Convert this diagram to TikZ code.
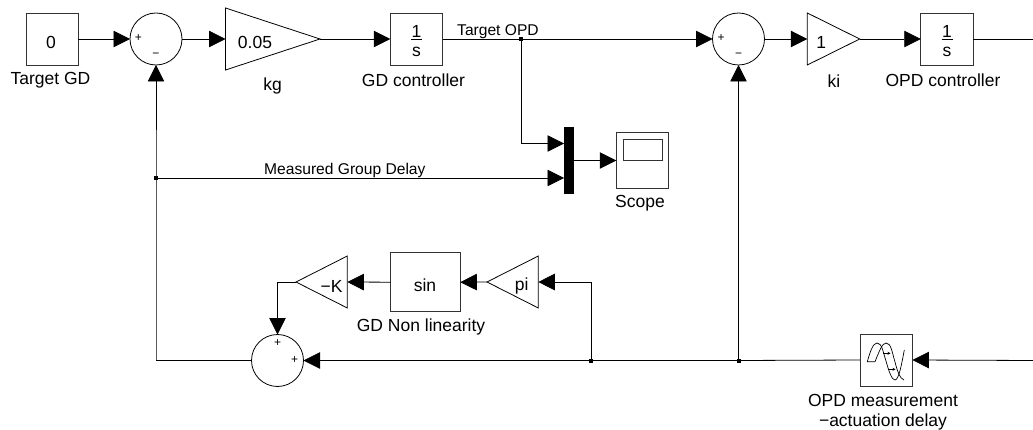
\documentclass[tikz,border=0pt]{standalone}
\usepackage{fontspec}
\setmainfont{Liberation Sans}
\usetikzlibrary{arrows.meta}
\definecolor{edge}{gray}{0.2}
\tikzset{
  x=1pt,y=-1pt,
  lbl/.style={inner sep=0pt,font=\fontsize{17.5}{20}\selectfont,align=center},
  wirelbl/.style={inner sep=0pt,font=\fontsize{15.6}{18}\selectfont,anchor=base west},
  sgn/.style={inner sep=0pt,font=\fontsize{12}{12}\selectfont},
  block/.style={draw=edge,line width=0.9pt,minimum width=#1,inner sep=0pt,outer sep=0pt},
  sumb/.style={circle,draw=black,line width=0.8pt,minimum size=52pt,inner sep=0pt,outer sep=0pt},
  tri/.style={draw=black,line width=0.8pt,line join=miter},
  wire/.style={draw=black,line width=0.8pt},
  sig/.style={wire,-{Triangle[length=16.5pt,width=16.5pt]}},
  dot/.style={fill=black,minimum size=4pt,inner sep=0pt,outer sep=0pt,shape=rectangle},
  icon/.style={draw=black,line width=0.7pt},
  iconarrow/.style={icon,-{Stealth[length=3pt,width=3pt]}},
}
\begin{document}
\begin{tikzpicture}
\useasboundingbox (0,0) rectangle (1033,430);
% blocks
\node[block=52pt,minimum height=52pt] (c0) at (52,39) {};
\node[lbl] (c0t) at (51,42) {0};
\node[lbl] (c0l) at (50.5,80) {Target GD};
\node[sumb] (s1) at (156,39) {};
\node[sgn] (s1p) at (138.5,38.5) {+};
\node[sgn] (s1m) at (156,55) {−};
% gain kg
\coordinate (kgB) at (225.5,39);
\coordinate (kgA) at (320,39);
\draw[tri] (225.5,8) -- (kgA) -- (225.5,70) -- cycle;
\node[lbl] (kgt) at (255,42.5) {0.05};
\node[lbl] (kgl) at (272.5,85.5) {kg};
\node[block=52.5pt,minimum height=52pt] (i1) at (416.5,39) {};
\node[lbl] (i1n) at (416.5,31.5) {1};
\node[lbl] (i1s) at (416.5,52) {s};
\coordinate (i1a) at (411,39);\coordinate (i1b) at (422,39);
\draw[line width=0.8pt] (i1a) -- (i1b);
\node[lbl] (i1l) at (413.5,80) {GD controller};
\node[wirelbl] (topd) at (457,36) {Target OPD};
\node[dot] (j1) at (521,39) {};
\node[sumb] (s2) at (738.5,39) {};
\node[sgn] (s2p) at (721,38.5) {+};
\node[sgn] (s2m) at (738.5,55) {−};
% gain ki
\coordinate (kiB) at (807.3,39);
\coordinate (kiA) at (859.7,39);
\draw[tri] (807.3,13) -- (kiA) -- (807.3,65) -- cycle;
\node[lbl] (kit) at (821.3,42) {1};
\node[lbl] (kil) at (834,81) {ki};
\node[block=52.5pt,minimum height=52pt] (i2) at (947,39) {};
\node[lbl] (i2n) at (947,31.5) {1};
\node[lbl] (i2s) at (947,52) {s};
\coordinate (i2a) at (941.5,39);\coordinate (i2b) at (952.5,39);
\draw[line width=0.8pt] (i2a) -- (i2b);
\node[lbl] (i2l) at (943,80) {OPD controller};
\coordinate (outr) at (1033,39);
\node[fill=black,minimum width=9.7pt,minimum height=67pt,inner sep=0pt,outer sep=0pt] (mux) at (568.9,160.5) {};
\coordinate (mi1) at (564,143.5);\coordinate (mi2) at (564,178);\coordinate (mo) at (573.7,160.5);
\node[block=52.5pt,minimum height=55.5pt] (sc) at (642.5,160.5) {};
\node[draw=edge,line width=0.9pt,minimum width=38.5pt,minimum height=21pt,inner sep=0pt] (scr) at (642.8,150.2) {};
\node[lbl] (scl) at (640,203) {Scope};
\node[dot] (j2) at (156,178) {};
\node[wirelbl] (mgd) at (264,175) {Measured Group Delay};
% lower path
\coordinate (mkA) at (296,282);
\coordinate (mkB) at (347.3,282);
\draw[tri] (347.3,256) -- (mkA) -- (347.3,308) -- cycle;
\node[lbl] (mkt) at (331.5,286) {−K};
\node[block=69.6pt,minimum height=59pt] (sn) at (425.5,282.2) {};
\node[lbl] (snt) at (425,285.5) {sin};
\node[lbl] (snl) at (421,327) {GD Non linearity};
\coordinate (piA) at (487,282);
\coordinate (piB) at (538.3,282);
\draw[tri] (538.3,256) -- (piA) -- (538.3,308) -- cycle;
\node[lbl] (pit) at (521.7,286) {pi};
\node[sumb] (s3) at (277.5,360.5) {};
\node[sgn] (s3a) at (277.7,343.5) {+};
\node[sgn] (s3b) at (294.7,360.5) {+};
\node[dot] (j3) at (591,360.5) {};
\node[dot] (j4) at (738.5,360.5) {};
\coordinate (c3) at (277.5,282);
\coordinate (c4) at (156,360.5);
\coordinate (c5) at (521,143.5);
\coordinate (inr) at (1033,360.5);
\coordinate (c6) at (591,282);
\node[block=52.5pt,minimum height=52pt] (dl) at (886.2,360) {};
\node[lbl] (dll) at (883,412.5) {OPD measurement\\−actuation delay};
% delay icon
\draw[icon] (875,361.7) -- (867.3,361.7) .. controls (870,352) and (873,343) .. (877,343) .. controls (882,343) and (883,352) .. (886,361) .. controls (889,372) and (892,380) .. (895,380) .. controls (899,380) and (902,362) .. (904.3,350);
\draw[icon] (875,361.7) .. controls (879,352) and (882,343) .. (886,343) .. controls (891,343) and (892,352) .. (895,362) .. controls (897,370) and (900,379) .. (904,380);
\draw[iconarrow] (883,353.3) -- (890.5,353.3);
\draw[iconarrow] (888,369.3) -- (895.5,369.3);
% connectors
\draw[sig] (c0.east) -- (s1.west);
\draw[sig] (s1.east) -- (kgB);
\draw[sig] (kgA) -- (i1.west);
\draw[wire] (i1.east) -- (j1.center);
\draw[sig] (j1.center) -- (s2.west);
\draw[sig] (s2.east) -- (kiB);
\draw[sig] (kiA) -- (i2.west);
\draw[wire] (i2.east) -- (outr);
\draw[sig] (j1.center) -- (c5) -- (mi1);
\draw[sig] (j2.center) -- (mi2);
\draw[sig] (mo) -- (sc.west);
\draw[sig] (c4) -- (j2.center) -- (s1.south);
\draw[wire] (s3.west) -- (c4);
\draw[sig] (inr) -- (dl.east);
\draw[wire] (dl.west) -- (j4.center);
\draw[sig] (j4.center) -- (s2.south);
\draw[wire] (j4.center) -- (j3.center);
\draw[sig] (j3.center) -- (s3.east);
\draw[sig] (j3.center) -- (c6) -- (piB);
\draw[sig] (piA) -- (sn.east);
\draw[sig] (sn.west) -- (mkB);
\draw[sig] (mkA) -- (c3) -- (s3.north);
\end{tikzpicture}
\end{document}
